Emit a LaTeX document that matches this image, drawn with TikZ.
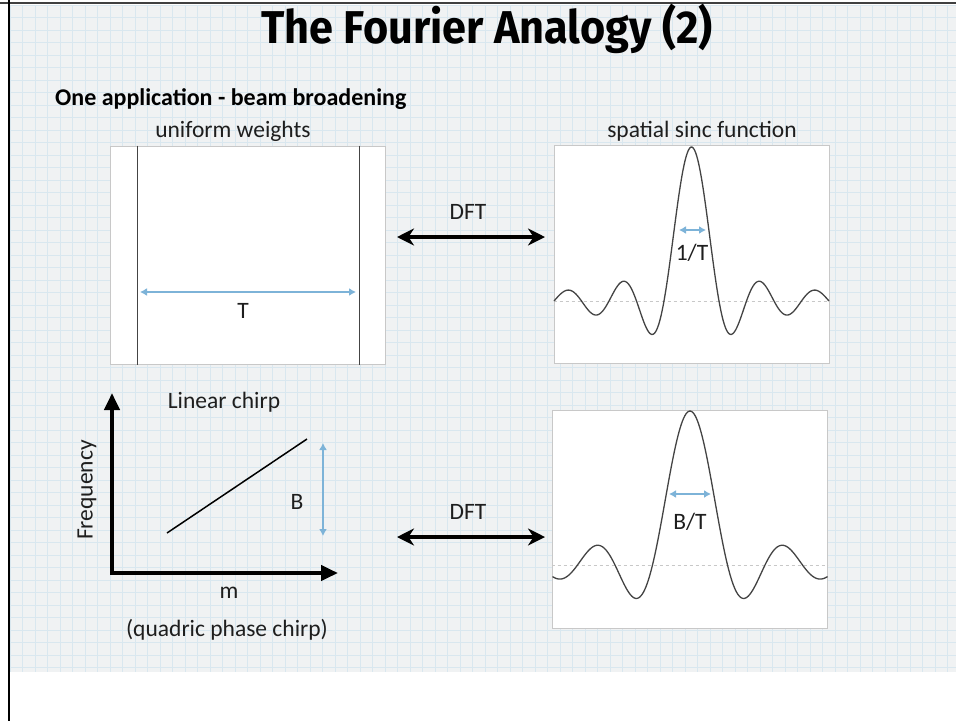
\documentclass[tikz,border=0pt]{standalone}
\usepackage{fontspec}
\setmainfont{Carlito}
\newfontfamily\titlefont{Fira Sans}
\usetikzlibrary{arrows.meta,positioning}

\definecolor{slidebg}{HTML}{F0F2F3}
\definecolor{gridblue}{HTML}{D9E7EF}
\definecolor{dimblue}{HTML}{7DB3D8}
\definecolor{framegray}{HTML}{C8C8C8}
\definecolor{sincgray}{HTML}{444444}
\definecolor{inkgray}{HTML}{1E1E1E}

\begin{document}
\begin{tikzpicture}[x=1pt, y=-1pt,
    every node/.style={font=\fontsize{23.5}{28}\selectfont, text=inkgray, inner sep=0pt},
    plotbox/.style={draw=framegray, fill=white, line width=1pt, minimum width=275, minimum height=218},
    gridline/.style={gridblue, line width=0.6pt},
    edgeline/.style={draw=sincgray, line width=1pt},
    dftarr/.style={{Stealth[length=17pt,width=17pt]}-{Stealth[length=17pt,width=17pt]}, line width=4pt},
    dimarr/.style={{Latex[length=7pt,width=8pt]}-{Latex[length=7pt,width=8pt]}, dimblue, line width=2pt},
    axisarr/.style={-{Triangle[length=17pt,width=15pt]}, line width=4pt},
    sincline/.style={sincgray, line width=1.3pt},
    zeroline/.style={framegray, dashed, line width=0.8pt},
  ]
  \useasboundingbox (0,0) rectangle (956,721);
  \fill[white] (0,0) rectangle (956,721);
  % slide background with grid
  \fill[slidebg] (10,5) rectangle (956,672);
  \foreach \gx in {10,22.5,...,956} \draw[gridline] (\gx,5) -- (\gx,672);
  \foreach \gy in {5,17.5,...,672} \draw[gridline] (10,\gy) -- (956,\gy);
  \draw[line width=1.5pt, black!75] (0,3) -- (956,3);
  \draw[line width=2pt] (9,0) -- (9,721);

  % headings
  \node[font=\titlefont\bfseries\fontsize{46}{52}\selectfont, text=black, xscale=0.94] (title) at (487,29) {The Fourier Analogy (2)};
  \node[anchor=west, font=\bfseries\fontsize{24}{28}\selectfont, text=black] (app) at (55,99) {One application - beam broadening};
  \node (uwlab) at (233,131) {uniform weights};
  \node (sinclab) at (702,131) {spatial sinc function};

  % uniform weights window
  \node[plotbox] (weights) at (248,255) {};
  \draw[edgeline] ([xshift=27pt]weights.north west) -- ([xshift=27pt]weights.south west);
  \draw[edgeline] ([xshift=-27pt]weights.north east) -- ([xshift=-27pt]weights.south east);
  \coordinate (tl) at (140,292);
  \coordinate (tr) at (356,292);
  \draw[dimarr] (tl) -- (tr);
  \node (tlab) at (243,311) {T};

  % spatial sinc
  \node[plotbox] (sincA) at (691.5,254) {};
  \draw[zeroline] (sincA.west |- 0,301) -- (sincA.east |- 0,301);
  \draw[sincline] plot[domain=-137.5:137.5, samples=240]
    ({691.5+\x}, {301-154*sin(\x/27.5*180)/(\x/27.5*pi)});
  \coordinate (wa) at (679,230);
  \coordinate (wb) at (706,230);
  \draw[dimarr] (wa) -- (wb);
  \node (invt) at (692,253) {1/T};

  % upper DFT
  \coordinate (dftal) at (397,237);
  \coordinate (dftar) at (545,237);
  \draw[dftarr] (dftal) -- (dftar);
  \node (dfta) at (468,212) {DFT};

  % linear chirp
  \coordinate (origin) at (112,573);
  \coordinate (ftop) at (112,393);
  \coordinate (mend) at (338,573);
  \draw[axisarr] ([yshift=2pt]origin) -- (ftop);
  \draw[axisarr] ([xshift=-2pt]origin) -- (mend);
  \node[rotate=90] (freq) at (87,490) {Frequency};
  \node (chirplab) at (224,402) {Linear chirp};
  \coordinate (cs) at (167,533);
  \coordinate (ce) at (307,439);
  \draw[line width=1.5pt] (cs) -- (ce);
  \coordinate (bt) at (323,443);
  \coordinate (bb) at (323,536);
  \draw[dimarr] (bt) -- (bb);
  \node (blab) at (297,502) {B};
  \node (mlab) at (229,593) {m};
  \node (qlab) at (227,630) {(quadric phase chirp)};

  % broadened sinc
  \node[plotbox] (sincB) at (689.5,519) {};
  \draw[zeroline] (sincB.west |- 0,565) -- (sincB.east |- 0,565);
  \draw[sincline] plot[domain=-137.5:137.5, samples=240]
    ({690+\x}, {565-154*sin(\x/37.5*180)/(\x/37.5*pi)});
  \coordinate (wc) at (669,494);
  \coordinate (wd) at (711,494);
  \draw[dimarr] (wc) -- (wd);
  \node (bovert) at (690,522) {B/T};

  % lower DFT
  \coordinate (dftbl) at (397,537);
  \coordinate (dftbr) at (545,537);
  \draw[dftarr] (dftbl) -- (dftbr);
  \node (dftb) at (468,512) {DFT};
\end{tikzpicture}
\end{document}
